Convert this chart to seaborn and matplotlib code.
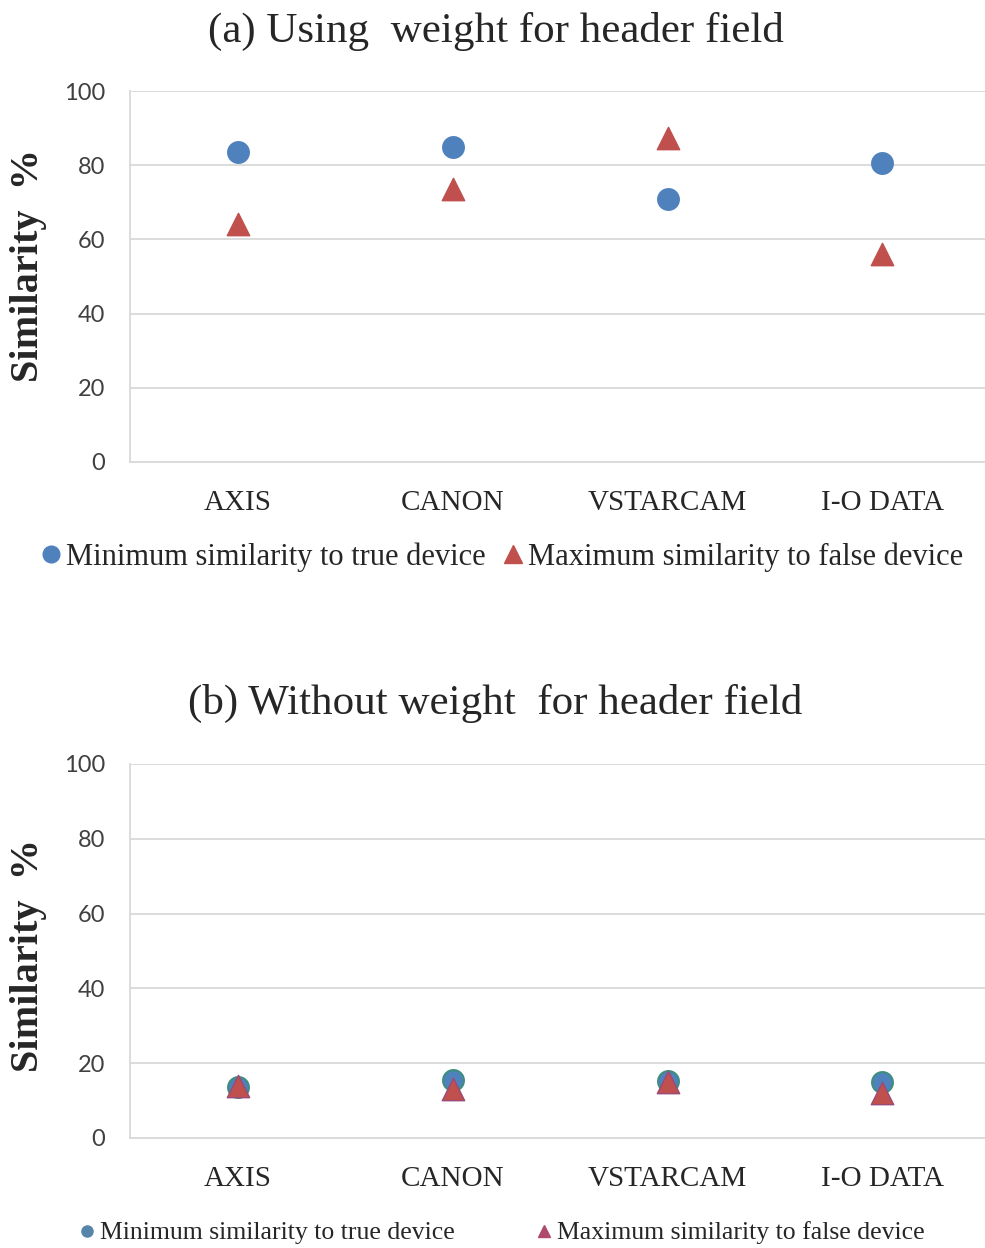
import matplotlib
matplotlib.use("Agg")
import matplotlib.pyplot as plt
import seaborn as sns
import pandas as pd
from matplotlib.lines import Line2D
from matplotlib.ticker import FixedLocator

# ---------------- data ----------------
categories = ["AXIS", "CANON", "VSTARCAM", "I-O DATA"]
min_true_weighted = [83.5, 84.8, 71.0, 80.6]
max_false_weighted = [64.2, 73.7, 87.3, 56.1]
min_true_unweighted = [13.7, 15.4, 15.2, 15.0]
max_false_unweighted = [14.0, 13.0, 15.0, 12.1]
yticks = [0, 20, 40, 60, 80, 100]
label_min = "Minimum similarity to true device"
label_max = "Maximum similarity to false device"
title_a = "(a) Using  weight for header field"
title_b = "(b) Without weight  for header field"

sns.set_theme(style="white")
serif = ["Liberation Serif", "DejaVu Serif"]
plt.rcParams["font.family"] = serif

W, H = 985, 1248
fig = plt.figure(figsize=(W / 100, H / 100), dpi=100)

BLUE = "#4F81BD"
RED = "#C0504D"
GRID = "#D9D9D9"


def panel(bottom_px, top_px, mins, maxs, circ_edge, tri_edge):
    left = 130 / W
    right = 990 / W
    ax = fig.add_axes([left, 1 - bottom_px / H, right - left, (bottom_px - top_px) / H])
    df_min = pd.DataFrame({"cat": categories, "val": mins})
    df_max = pd.DataFrame({"cat": categories, "val": maxs})
    sns.scatterplot(data=df_min, x="cat", y="val", ax=ax, marker="o", s=225,
                    color=BLUE, edgecolor=circ_edge, linewidth=1.5, zorder=3)
    sns.scatterplot(data=df_max, x="cat", y="val", ax=ax, marker="^", s=260,
                    color=RED, edgecolor=tri_edge, linewidth=1.0, zorder=4)
    ax.set_xlim(-0.5, 3.5)
    ax.set_ylim(0, 100)
    ax.set_yticks(yticks)
    ax.yaxis.grid(True, color=GRID, linewidth=1.3)
    ax.set_axisbelow(True)
    ax.set_xlabel("")
    ax.set_ylabel("")
    for s in ["top", "right"]:
        ax.spines[s].set_visible(False)
    for s in ["left", "bottom"]:
        ax.spines[s].set_color(GRID)
        ax.spines[s].set_linewidth(1.3)
    ax.tick_params(axis="x", which="major", length=0, pad=20, labelsize=21)
    ax.xaxis.set_minor_locator(FixedLocator([-0.5, 0.5, 1.5, 2.5]))
    ax.tick_params(axis="x", which="minor", length=8, color=GRID, width=1.3)
    ax.tick_params(axis="y", length=8, color=GRID, width=1.3, pad=10, labelsize=17,
                   labelcolor="#404040")
    for t in ax.get_yticklabels():
        t.set_family(["Lato", "DejaVu Sans"])
    for t in ax.get_xticklabels():
        t.set_family(serif)
    return ax


ax1 = panel(462, 91, min_true_weighted, max_false_weighted, BLUE, RED)
ax2 = panel(1138, 764, min_true_unweighted, max_false_unweighted, "#3E8E7E", "#9A4A78")

fig.text(0.503, 1 - 31 / H, title_a, ha="center", va="center", fontsize=31)
fig.text(0.503, 1 - 703 / H, title_b, ha="center", va="center", fontsize=31)

for yc in (265, 955):
    fig.text(29 / W, 1 - yc / H, "Similarity  %", rotation=90, ha="center", va="center",
             fontsize=29, fontweight="bold")

h1 = [Line2D([], [], marker="o", ls="", color=BLUE, markersize=12),
      Line2D([], [], marker="^", ls="", color=RED, markersize=13)]
fig.legend(h1, [label_min, label_max], loc="center", bbox_to_anchor=(0.507, 1 - 557 / H),
           ncol=2, frameon=False, fontsize=22, handletextpad=0.0, columnspacing=0.4,
           handlelength=1.0)

h2 = [Line2D([], [], marker="o", ls="", color="#5585A8", markersize=8),
      Line2D([], [], marker="^", ls="", color="#B04A6A", markersize=9)]
fig.legend(h2, [label_min, label_max], loc="center", bbox_to_anchor=(0.507, 1 - 1233 / H),
           ncol=2, frameon=False, fontsize=18.5, handletextpad=0.0, columnspacing=3.0,
           handlelength=1.0)

fig.savefig("out.png", dpi=100)
